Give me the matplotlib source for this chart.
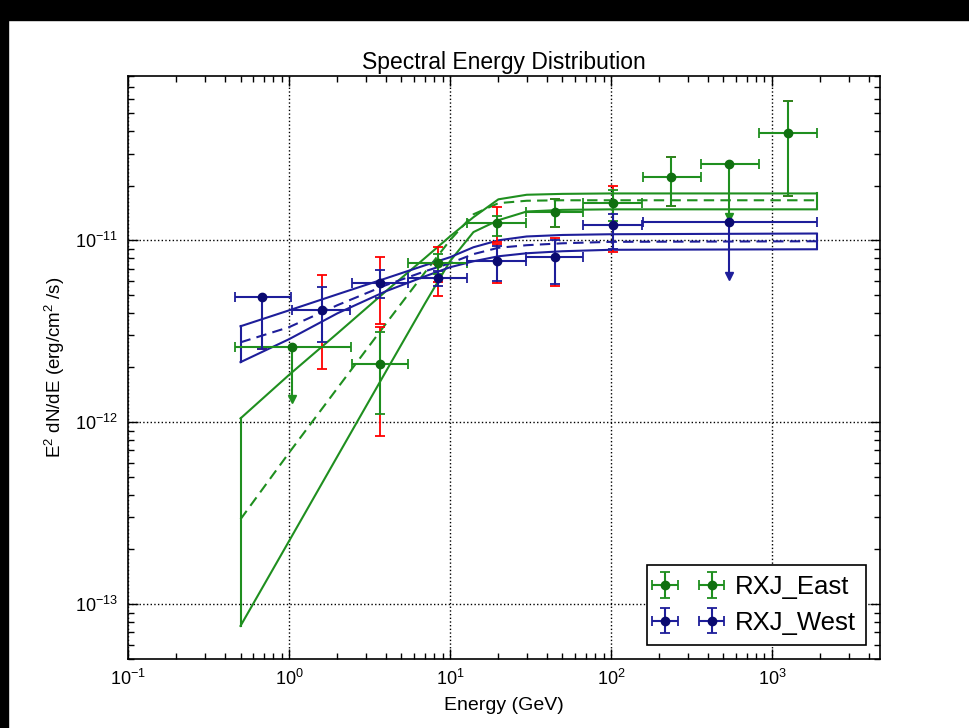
import matplotlib
matplotlib.use("Agg")
import matplotlib.pyplot as plt
from matplotlib.patches import Rectangle
from matplotlib.ticker import NullFormatter

plt.rcParams['font.family'] = ['Liberation Sans', 'DejaVu Sans']
plt.rcParams['mathtext.fontset'] = 'custom'
plt.rcParams['mathtext.rm'] = 'Liberation Sans'
plt.rcParams['mathtext.it'] = 'Liberation Sans'
plt.rcParams['mathtext.default'] = 'regular'

# ---------------- data ----------------
# RXJ_East detected points
east_E = [3.7, 8.4, 19.6, 44.9, 103, 236, 1256]
east_F = [2.08e-12, 7.48e-12, 1.24e-11, 1.44e-11, 1.60e-11, 2.22e-11, 3.87e-11]
east_Elo = [2.45, 5.5, 12.7, 29.8, 67, 158, 833]
east_Ehi = [5.5, 12.7, 29.8, 67, 156, 362, 1900]
east_stat_lo = [1.11e-12, 6.5e-12, 1.05e-11, 1.19e-11, 1.27e-11, 1.54e-11, 1.75e-11]
east_stat_hi = [3.12e-12, 8.38e-12, 1.36e-11, 1.68e-11, 1.90e-11, 2.86e-11, 5.8e-11]
east_tot_lo = [8.37e-13, 5.88e-12, 9.75e-12, 1.19e-11, 1.22e-11, 1.54e-11, 1.75e-11]
east_tot_hi = [3.32e-12, 9.16e-12, 1.52e-11, 1.68e-11, 1.98e-11, 2.86e-11, 5.8e-11]
# RXJ_East upper limits
east_ul_E = [1.05, 541]
east_ul_F = [2.58e-12, 2.62e-11]
east_ul_Elo = [0.46, 362]
east_ul_Ehi = [2.43, 833]
east_ul_end = [1.34e-12, 1.34e-11]

# RXJ_West detected points
west_E = [0.68, 1.6, 3.67, 8.4, 19.6, 44.9, 103]
west_F = [4.87e-12, 4.12e-12, 5.8e-12, 6.18e-12, 7.67e-12, 8.07e-12, 1.22e-11]
west_Elo = [0.46, 1.04, 2.45, 5.5, 12.7, 29.8, 67]
west_Ehi = [1.03, 2.40, 5.5, 12.7, 29.8, 67, 156]
west_stat_lo = [2.52e-12, 2.76e-12, 4.8e-12, 5.58e-12, 5.95e-12, 5.72e-12, 8.93e-12]
west_stat_hi = [4.87e-12, 5.52e-12, 6.84e-12, 6.76e-12, 9.27e-12, 1.01e-11, 1.39e-11]
west_tot_lo = [2.52e-12, 1.96e-12, 3.45e-12, 4.92e-12, 5.8e-12, 5.6e-12, 8.59e-12]
west_tot_hi = [4.87e-12, 6.42e-12, 8.07e-12, 7.38e-12, 9.5e-12, 1.03e-11, 1.6e-11]
# RXJ_West upper limit
west_ul_E = [541]
west_ul_F = [1.26e-11]
west_ul_Elo = [158]
west_ul_Ehi = [1920]
west_ul_end = [6.4e-12]

# model butterflies
model_E = [0.5, 1, 2, 4, 7, 10, 14, 20, 30, 50, 100, 1900]
east_up = [1.05e-12, 1.82e-12, 3.08e-12, 5.25e-12, 8.0e-12, 1.05e-11, 1.34e-11, 1.68e-11, 1.78e-11, 1.80e-11, 1.81e-11, 1.81e-11]
east_mid = [2.93e-13, 6.79e-13, 1.54e-12, 3.48e-12, 6.67e-12, 1.0e-11, 1.39e-11, 1.60e-11, 1.65e-11, 1.66e-11, 1.66e-11, 1.66e-11]
east_low = [7.6e-14, 2.22e-13, 6.5e-13, 1.9e-12, 4.5e-12, 7.67e-12, 1.11e-11, 1.29e-11, 1.44e-11, 1.47e-11, 1.48e-11, 1.48e-11]
west_up = [3.37e-12, 4.12e-12, 5.05e-12, 6.18e-12, 7.29e-12, 8.07e-12, 9.16e-12, 1.0e-11, 1.05e-11, 1.07e-11, 1.08e-11, 1.09e-11]
west_mid = [2.75e-12, 3.33e-12, 4.4e-12, 5.67e-12, 6.76e-12, 7.48e-12, 8.4e-12, 9.1e-12, 9.4e-12, 9.63e-12, 9.81e-12, 9.88e-12]
west_low = [2.14e-12, 2.86e-12, 3.97e-12, 5.25e-12, 6.34e-12, 7.11e-12, 7.67e-12, 8.17e-12, 8.49e-12, 8.71e-12, 8.87e-12, 8.93e-12]

# ---------------- figure ----------------
fig = plt.figure(figsize=(9.69, 7.28), dpi=100)
ax = fig.add_axes([0.1321, 0.0948, 0.7761, 0.8008])

GREEN = '#1f8f1f'
GREEN_PT = '#107010'
BLUE = '#1e1e9a'
BLUE_PT = '#0a0a70'


def draw_source(E, F, Elo, Ehi, slo, shi, tlo, thi, ulE, ulF, ulElo, ulEhi, ulEnd,
                up, mid, low, lc, pc, label):
    ax.plot(model_E, up, color=lc, lw=1.5, zorder=2)
    ax.plot(model_E, low, color=lc, lw=1.5, zorder=2)
    ax.plot(model_E, mid, color=lc, lw=1.5, ls=(0, (5, 3)), zorder=2)
    # close the butterfly ends
    ax.plot([model_E[0], model_E[0]], [low[0], up[0]], color=lc, lw=1.5, zorder=2)
    ax.plot([model_E[-1], model_E[-1]], [low[-1], up[-1]], color=lc, lw=1.5, zorder=2)
    # total (red) errors
    ax.errorbar(E, F, yerr=[[f - l for f, l in zip(F, tlo)], [h - f for f, h in zip(F, thi)]],
                fmt='none', ecolor='red', elinewidth=1.3, capsize=3.5, capthick=1.3, zorder=3)
    xerr = [[e - l for e, l in zip(E, Elo)], [h - e for e, h in zip(E, Ehi)]]
    yerr = [[f - l for f, l in zip(F, slo)], [h - f for f, h in zip(F, shi)]]
    cont = ax.errorbar(E, F, xerr=xerr, yerr=yerr, fmt='o', color=lc, ecolor=lc,
                       mfc=pc, mec=pc, ms=6, elinewidth=1.5, capsize=3.5, capthick=1.3,
                       zorder=4, label=label)
    # upper limits
    ax.errorbar(ulE, ulF, xerr=[[e - l for e, l in zip(ulE, ulElo)], [h - e for e, h in zip(ulE, ulEhi)]],
                fmt='o', color=lc, ecolor=lc, mfc=pc, mec=pc, ms=6, elinewidth=1.5,
                capsize=3.5, capthick=1.3, zorder=4)
    for e, f, end in zip(ulE, ulF, ulEnd):
        ax.plot([e, e], [f, end], color=lc, lw=1.5, zorder=4)
        ax.plot([e], [end], marker='v', color=lc, ms=6, zorder=4)
    return cont


h1 = draw_source(east_E, east_F, east_Elo, east_Ehi, east_stat_lo, east_stat_hi,
                 east_tot_lo, east_tot_hi, east_ul_E, east_ul_F, east_ul_Elo, east_ul_Ehi,
                 east_ul_end, east_up, east_mid, east_low, GREEN, GREEN_PT, 'RXJ_East')
h2 = draw_source(west_E, west_F, west_Elo, west_Ehi, west_stat_lo, west_stat_hi,
                 west_tot_lo, west_tot_hi, west_ul_E, west_ul_F, west_ul_Elo, west_ul_Ehi,
                 west_ul_end, west_up, west_mid, west_low, BLUE, BLUE_PT, 'RXJ_West')

ax.set_xscale('log')
ax.set_yscale('log')
ax.set_xlim(0.1, 4700)
ax.set_ylim(5e-14, 8e-11)
ax.xaxis.set_minor_formatter(NullFormatter())
ax.yaxis.set_minor_formatter(NullFormatter())
ax.grid(True, which='major', color='black', linestyle=':', linewidth=1.0)
ax.tick_params(which='both', direction='in', top=True, right=True, labelsize=13)
ax.tick_params(which='major', length=7, width=1, pad=7)
ax.tick_params(which='minor', length=4, width=1)
for s in ax.spines.values():
    s.set_linewidth(1.2)

ax.set_title('Spectral Energy Distribution', fontsize=16.5, pad=5)
ax.set_xlabel('Energy (GeV)', fontsize=14, labelpad=6)
ax.set_ylabel('E$^2$ dN/dE (erg/cm$^2$ /s)', fontsize=13.5, labelpad=6)

leg = ax.legend(handles=[h1, h2], loc='lower right', numpoints=2, fontsize=18.5,
                fancybox=False, framealpha=1, edgecolor='black', borderaxespad=0.55,
                handlelength=2.4, labelspacing=0.45, handletextpad=0.6)
leg.get_frame().set_linewidth(1.2)

# screenshot border
fig.patches.append(Rectangle((0, 1 - 20 / 728), 1, 20 / 728, transform=fig.transFigure,
                             color='black', zorder=10))
fig.patches.append(Rectangle((0, 0), 8 / 969, 1, transform=fig.transFigure,
                             color='black', zorder=10))

fig.savefig('out.png', dpi=100)
